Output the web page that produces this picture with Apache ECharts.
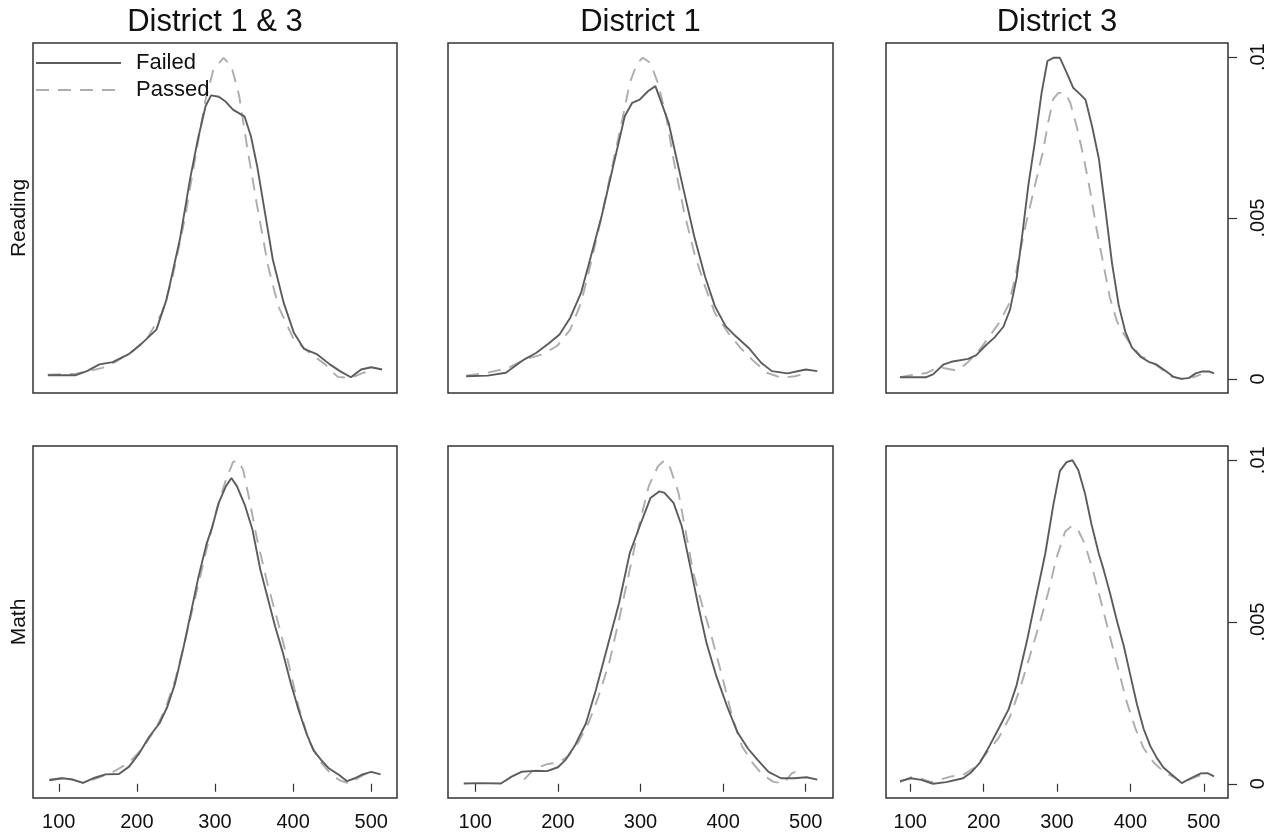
<!DOCTYPE html>
<html>
<head>
	<meta charset="utf-8">
	<title>Reading and Math density</title>
	<style type="text/css">
		*{ padding: 0; margin: 0; }
		body{ background: #fff; }
		#chart{ width: 1282px; height: 838px; }
	</style>
</head>
<body>
	<div id="chart"></div>

<script type="text/javascript" src="https://cdn.jsdelivr.net/npm/echarts@6/dist/echarts.min.js"></script>
<script type="text/javascript">
	// column / row headings
	var districts = ['District 1 & 3', 'District 1', 'District 3'];
	var subjects = ['Reading', 'Math'];
	var groups = ['Failed', 'Passed'];

	// tick labels
	var xTicks = [100, 200, 300, 400, 500];
	var yTicks = [0, 0.005, 0.01];
	var yTickLabels = ['0', '.005', '.01'];

	// [score, density]
	var readAllFailed = [[86,0.00011],[121,0.00011],[136,0.00024],[152,0.00045],[169,0.00052],[189,0.00076],[205,0.00107],[225,0.00153],[238,0.00247],[255,0.00433],[268,0.0062],[278,0.00744],[288,0.00848],[295,0.00881],[305,0.00877],[313,0.00863],[323,0.00837],[338,0.00815],[346,0.00754],[354,0.00661],[364,0.00516],[374,0.00371],[388,0.00236],[401,0.00143],[414,0.00093],[431,0.00076],[447,0.00045],[460,0.00024],[474,0.00005],[487,0.00029],[500,0.00036],[514,0.00029]];
	var readAllPassed = [[86,0.00013],[122,0.00016],[156,0.00034],[172,0.00052],[195,0.00086],[215,0.00133],[232,0.00205],[245,0.00309],[262,0.00506],[275,0.00692],[288,0.00868],[298,0.00962],[311,0.00998],[321,0.00972],[331,0.00879],[341,0.00723],[354,0.00537],[368,0.0035],[381,0.00226],[401,0.00122],[421,0.00081],[441,0.00045],[457,0.00006],[474,0.00003],[490,0.00019],[504,0.00029]];
	var readD1Failed = [[89,0.00008],[115,0.0001],[137,0.00019],[159,0.0006],[174,0.00081],[190,0.00112],[202,0.00138],[215,0.0019],[228,0.00267],[240,0.00381],[253,0.00506],[265,0.0064],[281,0.00817],[290,0.00858],[299,0.00868],[309,0.00894],[318,0.0091],[324,0.00868],[334,0.00796],[343,0.00692],[353,0.00578],[365,0.00443],[378,0.00319],[390,0.00226],[403,0.00164],[415,0.00133],[431,0.00096],[446,0.0005],[459,0.00024],[478,0.00017],[500,0.00029],[514,0.00024]];
	var readD1Passed = [[89,0.0001],[115,0.00019],[140,0.00034],[159,0.0006],[181,0.00076],[199,0.00102],[215,0.00153],[228,0.00236],[240,0.0036],[253,0.00506],[265,0.00651],[278,0.00806],[287,0.0092],[296,0.00982],[303,0.00998],[312,0.00982],[321,0.0092],[331,0.00817],[340,0.00682],[353,0.00516],[365,0.00392],[378,0.00288],[390,0.00205],[406,0.00143],[421,0.00096],[437,0.00055],[453,0.00019],[471,0.00003],[487,0.00008],[503,0.00019]];
	var readD3Failed = [[86,0.00005],[122,0.00005],[131,0.00014],[145,0.00044],[156,0.00053],[179,0.00062],[190,0.00074],[202,0.00102],[215,0.00129],[227,0.00162],[236,0.00215],[245,0.00314],[252,0.00435],[261,0.00602],[270,0.00738],[279,0.00889],[287,0.00988],[295,0.00998],[304,0.00998],[313,0.00953],[322,0.00905],[331,0.00886],[339,0.00867],[348,0.00783],[357,0.00685],[366,0.00526],[375,0.00359],[384,0.0023],[393,0.00147],[402,0.00098],[414,0.00068],[425,0.00053],[436,0.00044],[450,0.00021],[459,0.00006],[470,0],[480,0.00003],[489,0.00017],[498,0.00023],[507,0.00023],[514,0.00017]];
	var readD3Passed = [[86,0.00005],[101,0.00011],[122,0.00018],[138,0.00036],[149,0.00032],[163,0.00026],[177,0.00048],[193,0.00086],[208,0.00132],[222,0.00177],[234,0.0023],[243,0.00314],[249,0.00389],[259,0.00495],[270,0.00602],[281,0.00708],[288,0.00798],[295,0.0087],[302,0.00889],[311,0.00889],[318,0.00859],[327,0.00783],[336,0.00692],[345,0.00586],[354,0.00465],[363,0.00359],[372,0.00253],[382,0.00177],[391,0.00139],[402,0.00102],[414,0.00071],[427,0.00056],[441,0.00033],[455,0.00008],[468,0],[482,0.00002],[496,0.00014]];
	var mathAllFailed = [[88,0.00011],[105,0.00017],[118,0.00013],[131,0.00003],[144,0.00017],[160,0.00029],[177,0.0003],[190,0.00053],[203,0.00094],[216,0.00146],[229,0.00187],[239,0.00238],[249,0.00311],[259,0.00414],[269,0.00527],[279,0.00641],[289,0.0074],[296,0.0079],[305,0.0087],[314,0.0092],[321,0.00945],[328,0.0092],[338,0.00863],[348,0.00785],[358,0.00662],[367,0.00579],[377,0.00486],[387,0.00404],[397,0.00311],[407,0.00228],[417,0.00156],[426,0.00104],[436,0.00073],[446,0.00047],[459,0.00027],[469,0.00008],[479,0.00017],[489,0.00029],[500,0.00037],[512,0.00029]];
	var mathAllPassed = [[88,0.00013],[108,0.00019],[131,0.00003],[151,0.00019],[170,0.00037],[190,0.00065],[207,0.00109],[223,0.00166],[236,0.00228],[249,0.00321],[262,0.00445],[275,0.00579],[289,0.00723],[302,0.00847],[314,0.0094],[323,0.00994],[329,0.01],[336,0.00971],[344,0.00878],[354,0.00754],[367,0.0062],[381,0.00496],[394,0.00373],[407,0.00238],[420,0.00135],[433,0.00073],[446,0.00037],[459,0.00011],[472,0],[486,0.00022],[499,0.00037]];
	var mathD1Failed = [[86,0.00001],[106,0.00002],[131,0.00001],[144,0.00022],[156,0.00037],[172,0.0004],[187,0.00039],[200,0.00051],[209,0.00073],[221,0.0012],[234,0.00187],[246,0.0029],[259,0.00414],[274,0.00558],[287,0.00713],[299,0.00796],[312,0.00883],[323,0.00904],[329,0.00899],[340,0.00868],[350,0.00796],[361,0.00662],[371,0.00538],[380,0.00434],[392,0.00331],[405,0.00238],[417,0.00161],[430,0.00109],[442,0.00073],[455,0.00037],[470,0.00017],[486,0.00017],[501,0.0002],[514,0.00013]];
	var mathD1Passed = [[159,0.00013],[172,0.00047],[187,0.00061],[200,0.00065],[212,0.00084],[224,0.00125],[237,0.00187],[249,0.00269],[262,0.00373],[274,0.00507],[287,0.00662],[299,0.00806],[310,0.0092],[321,0.00981],[329,0.01],[336,0.00976],[346,0.00899],[355,0.00775],[364,0.00651],[374,0.00558],[386,0.00455],[399,0.00331],[411,0.00207],[423,0.00115],[436,0.00063],[448,0.00027],[461,0.00006],[473,0.00001],[483,0.00032],[498,0.00047]];
	var mathD3Failed = [[86,0.00008],[101,0.00017],[115,0.00012],[131,0],[149,0.00005],[172,0.00017],[183,0.00035],[195,0.00065],[208,0.00117],[222,0.00177],[234,0.0023],[245,0.00305],[259,0.00441],[270,0.00561],[284,0.00711],[295,0.00862],[304,0.00967],[313,0.00994],[321,0.01],[329,0.0097],[338,0.00899],[347,0.00802],[357,0.00711],[363,0.00666],[372,0.00591],[382,0.00501],[391,0.00426],[400,0.00335],[409,0.00245],[418,0.0017],[427,0.00117],[436,0.0008],[445,0.0005],[457,0.00027],[470,0.00002],[482,0.00017],[496,0.00032],[505,0.00033],[514,0.00023]];
	var mathD3Passed = [[86,0.00005],[101,0.0002],[113,0.00017],[129,0.00005],[140,0.00012],[156,0.00023],[172,0.00027],[188,0.0005],[204,0.00095],[220,0.0014],[236,0.00208],[249,0.0029],[263,0.00395],[277,0.00501],[288,0.00591],[299,0.00696],[311,0.00779],[320,0.00797],[329,0.00783],[338,0.00741],[350,0.00651],[361,0.00553],[372,0.00456],[384,0.0035],[395,0.00253],[407,0.0017],[418,0.0011],[432,0.00065],[445,0.00038],[459,0.0002],[470,0.00005],[482,0.00014],[496,0.00027],[507,0.00027]];

	// panel order: row by row, left to right
	var panels = [
		[readAllFailed, readAllPassed], [readD1Failed, readD1Passed], [readD3Failed, readD3Passed],
		[mathAllFailed, mathAllPassed], [mathD1Failed, mathD1Passed], [mathD3Failed, mathD3Passed]
	];

	var font = '"Liberation Sans", Arial, Helvetica, sans-serif';
	var colLeft = [33, 448, 886];
	var colWidth = [364, 385, 342];
	var rowTop = [43, 446];
	var rowHeight = [350, 352];
	var lineColors = ['#5c5c5c', '#adadad'];

	var grids = [], xAxes = [], yAxes = [], series = [];
	for (var i = 0; i < 6; i++) {
		var r = Math.floor(i / 3), c = i % 3;
		grids.push({
			show: true, left: colLeft[c], top: rowTop[r], width: colWidth[c], height: rowHeight[r],
			borderColor: '#333', borderWidth: 1.5, backgroundColor: '#fff'
		});
		xAxes.push({
			gridIndex: i, type: 'value', min: 67, max: 533,
			position: r === 0 ? 'top' : 'bottom',
			name: r === 0 ? districts[c] : '',
			nameLocation: 'middle', nameGap: 5,
			nameTextStyle: { fontFamily: font, fontSize: 31, color: '#111' },
			axisLine: { show: false },
			axisTick: { show: r === 1, length: 8, customValues: xTicks, lineStyle: { color: '#333', width: 1.2 } },
			axisLabel: { show: r === 1, customValues: xTicks, fontFamily: font, fontSize: 20, color: '#111', margin: 14 },
			splitLine: { show: false }
		});
		yAxes.push({
			gridIndex: i, type: 'value', min: -0.00044, max: 0.01044,
			position: c === 2 ? 'right' : 'left',
			name: c === 0 ? subjects[r] : '',
			nameLocation: 'middle', nameRotate: 90, nameGap: 3,
			nameTextStyle: { fontFamily: font, fontSize: 21, color: '#111' },
			axisLine: { show: false },
			axisTick: { show: c === 2, length: 9, customValues: yTicks, lineStyle: { color: '#333', width: 1.2 } },
			axisLabel: {
				show: c === 2, customValues: yTicks, rotate: 90, margin: 20,
				fontFamily: font, fontSize: 20, color: '#111',
				formatter: function (v) {
					for (var k = 0; k < yTicks.length; k++) {
						if (Math.abs(yTicks[k] - v) < 1e-9) return yTickLabels[k];
					}
					return '';
				}
			},
			splitLine: { show: false }
		});
		for (var g = 0; g < 2; g++) {
			series.push({
				type: 'line', name: groups[g], xAxisIndex: i, yAxisIndex: i,
				data: panels[i][g], showSymbol: false, symbol: 'none', z: g === 0 ? 3 : 2,
				itemStyle: { color: lineColors[g] },
				lineStyle: { color: lineColors[g], width: 1.9, type: g === 0 ? 'solid' : [13, 9] }
			});
		}
	}

	var chart = echarts.init(document.getElementById('chart'));
	chart.setOption({
		animation: false,
		backgroundColor: '#fff',
		textStyle: { fontFamily: font },
		legend: {
			data: groups, orient: 'vertical', left: 35, top: 52, padding: 0,
			itemWidth: 85, itemHeight: 14, itemGap: 5,
			itemStyle: { opacity: 0, color: 'rgba(0,0,0,0)', borderWidth: 0 },
			textStyle: { fontFamily: font, fontSize: 22, color: '#111', padding: [0, 0, 0, 10] }
		},
		grid: grids,
		xAxis: xAxes,
		yAxis: yAxes,
		series: series
	});
</script>
</body>
</html>
